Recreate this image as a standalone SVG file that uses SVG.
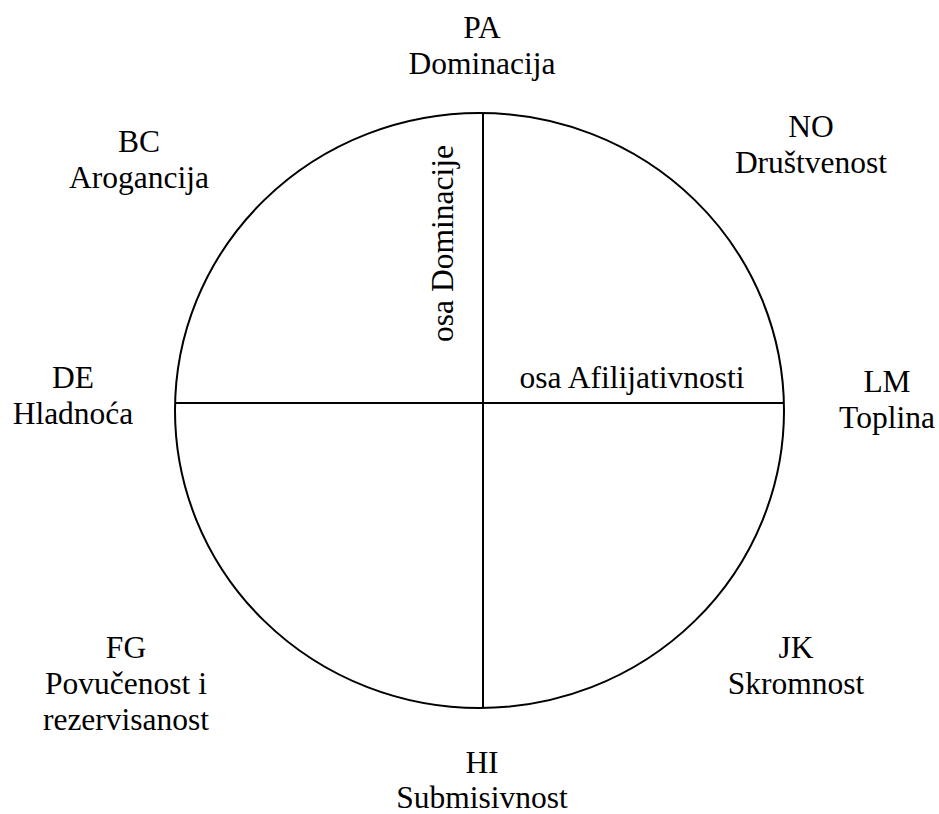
<svg xmlns="http://www.w3.org/2000/svg" width="939" height="814" viewBox="0 0 939 814">
<style>
text{font-family:"Liberation Serif","Times New Roman",serif;font-size:31.5px;fill:#000;text-anchor:middle}
.ln{stroke:#000;stroke-width:2;fill:none}
</style>
<rect width="939" height="814" fill="#fff"/>
<g id="circle"><ellipse class="ln" cx="479.5" cy="410.5" rx="304.5" ry="297.5"/></g>
<g id="axes">
<line class="ln" x1="175" y1="403" x2="784" y2="403"/>
<line class="ln" x1="483" y1="113" x2="483" y2="708"/>
</g>
<g id="axis-labels">
<text transform="translate(452.5,243.5) rotate(-90)">osa Dominacije</text>
<text x="632" y="388">osa Afilijativnosti</text>
</g>
<g id="PA"><text x="482" y="38">PA</text><text x="482" y="74">Dominacija</text></g>
<g id="BC"><text x="139" y="152">BC</text><text x="139" y="188">Arogancija</text></g>
<g id="NO"><text x="811" y="137">NO</text><text x="811" y="173">Društvenost</text></g>
<g id="DE"><text x="73" y="388">DE</text><text x="73" y="424">Hladnoća</text></g>
<g id="LM"><text x="887" y="392">LM</text><text x="887" y="428">Toplina</text></g>
<g id="FG"><text x="126" y="658">FG</text><text x="126" y="694">Povučenost i</text><text x="126" y="730">rezervisanost</text></g>
<g id="JK"><text x="796" y="658">JK</text><text x="796" y="694">Skromnost</text></g>
<g id="HI"><text x="482" y="773">HI</text><text x="482" y="808">Submisivnost</text></g>
</svg>
